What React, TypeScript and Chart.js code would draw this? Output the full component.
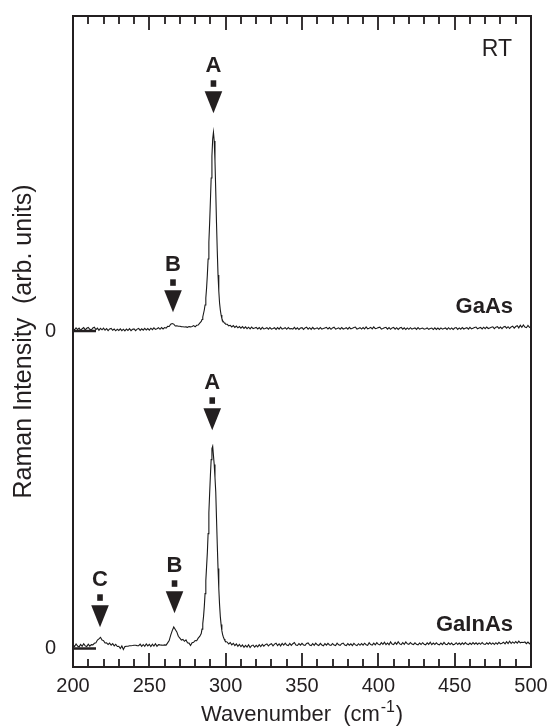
import { useEffect, useRef } from "react";
import { Chart, registerables } from "chart.js";

Chart.register(...registerables);

const FONT = '"Liberation Sans", Arial, Helvetica, sans-serif';
const INK = "#231f20";

// Raman shift (cm^-1)
const waveNumbers = [
  200, 201, 202, 203, 204, 205, 206, 207, 208, 209,
  210, 211, 212, 213, 214, 215, 216, 217, 218, 219,
  220, 221, 222, 223, 224, 225, 226, 227, 228, 229,
  230, 231, 232, 233, 234, 235, 236, 237, 238, 239,
  240, 241, 242, 243, 244, 245, 246, 247, 248, 249,
  250, 251, 252, 253, 254, 255, 256, 257, 258, 259,
  260, 261, 262, 263, 264, 265, 266, 267, 268, 269,
  270, 271, 272, 273, 274, 275, 276, 277, 278, 279,
  280, 281, 282, 283,
  284, 284.5, 285, 285.5, 286, 286.5, 287, 287.5, 288, 288.5,
  289, 289.5, 290, 290.5, 291, 291.5, 292, 292.5, 293, 293.5,
  294, 294.5, 295, 295.5, 296, 296.5, 297, 297.5, 298, 298.5,
  299, 299.5, 300,
  301, 302, 303, 304, 305, 306, 307, 308, 309,
  310, 311, 312, 313, 314, 315, 316, 317, 318, 319,
  320, 321, 322, 323, 324, 325, 326, 327, 328, 329,
  330, 331, 332, 333, 334, 335, 336, 337, 338, 339,
  340, 341, 342, 343, 344, 345, 346, 347, 348, 349,
  350, 351, 352, 353, 354, 355, 356, 357, 358, 359,
  360, 361, 362, 363, 364, 365, 366, 367, 368, 369,
  370, 371, 372, 373, 374, 375, 376, 377, 378, 379,
  380, 381, 382, 383, 384, 385, 386, 387, 388, 389,
  390, 391, 392, 393, 394, 395, 396, 397, 398, 399,
  400, 401, 402, 403, 404, 405, 406, 407, 408, 409,
  410, 411, 412, 413, 414, 415, 416, 417, 418, 419,
  420, 421, 422, 423, 424, 425, 426, 427, 428, 429,
  430, 431, 432, 433, 434, 435, 436, 437, 438, 439,
  440, 441, 442, 443, 444, 445, 446, 447, 448, 449,
  450, 451, 452, 453, 454, 455, 456, 457, 458, 459,
  460, 461, 462, 463, 464, 465, 466, 467, 468, 469,
  470, 471, 472, 473, 474, 475, 476, 477, 478, 479,
  480, 481, 482, 483, 484, 485, 486, 487, 488, 489,
  490, 491, 492, 493, 494, 495, 496, 497, 498, 499, 500,
];

// GaAs spectrum (arb. units, relative to its own zero)
const gaAsIntensity = [
  2.6, 1.0, 3.2, 1.5, 2.9, 0.7, 2.3, 3.4, 1.1, 2.7,
  3.5, 1.7, 0.9, 3.0, 3.7, 1.3, 2.9, 0.6, 2.6, 1.2,
  2.9, 0.8, 2.3, 0.3, 2.0, 2.6, 0.7, 1.9, 0.2, 1.8,
  0.6, 2.2, 0.4, 1.8, 0.1, 2.0, 0.5, 2.3, 0.3, 1.7,
  2.1, 0.4, 1.9, 2.5, 0.6, 2.2, 0.8, 2.7, 1.0, 2.4,
  0.9, 2.8, 1.3, 3.1, 1.6, 2.2, 3.3, 1.7, 3.5, 2.0,
  3.4, 2.9, 4.6, 4.5, 6.7, 7.4, 6.9, 5.0, 5.3, 4.7,
  4.8, 4.4, 4.3, 4.0, 4.1, 3.7, 4.4, 4.1, 4.6, 5.4,
  4.2, 5.7, 6.0, 7.9,
  9.5, 11.5, 14, 17.5, 21, 26, 33, 43, 56, 72,
  89, 108, 130, 153, 175, 192, 198.7, 190, 170, 140,
  108, 80, 56, 40, 28, 21, 16, 12.5, 10.5, 9.3,
  8.4, 7.6, 7.0,
  6.7, 5.2, 5.7, 4.1, 5.4, 3.6, 4.9, 3.2, 4.5,
  2.9, 4.4, 2.6, 4.1, 2.3, 3.8, 2.1, 4.0, 2.4, 2.9,
  3.6, 2.0, 3.4, 1.7, 3.7, 2.1, 2.5, 3.3, 1.8, 3.5,
  1.9, 2.4, 3.2, 1.6, 3.4, 1.8, 3.8, 2.0, 2.5, 3.3,
  1.7, 3.5, 2.1, 2.4, 1.9, 3.6, 1.8, 3.2, 1.5, 3.0,
  3.4, 1.6, 3.1, 3.9, 1.9, 3.3, 1.7, 3.6, 2.0, 2.5,
  3.2, 1.8, 3.5, 1.9, 2.4, 3.1, 3.7, 2.0, 3.4, 1.7,
  3.1, 3.8, 1.9, 2.5, 3.2, 1.8, 3.5, 2.0, 2.6, 3.3,
  1.9, 3.6, 2.1, 2.7, 3.4, 3.9, 2.0, 2.6, 3.3, 1.9,
  3.5, 2.0, 4.0, 2.2, 2.7, 3.6, 2.1, 4.1, 2.3, 2.8,
  3.4, 3.8, 2.0, 2.5, 3.2, 3.7, 1.9, 3.4, 1.7, 3.1,
  3.6, 1.9, 3.3, 1.6, 3.0, 3.5, 1.8, 3.2, 1.5, 3.1,
  1.7, 3.3, 1.9, 2.4, 3.1, 1.6, 3.4, 1.8, 2.5, 3.0,
  1.8, 2.3, 3.1, 1.7, 2.4, 2.9, 1.5, 3.2, 1.6, 3.0,
  1.5, 3.1, 1.8, 2.4, 3.0, 1.6, 3.3, 1.7, 3.1, 1.5,
  2.9, 3.4, 1.6, 3.1, 1.8, 3.5, 2.0, 2.7, 3.3, 1.9,
  3.6, 2.1, 2.8, 3.4, 3.9, 2.2, 2.9, 3.5, 2.1, 3.8,
  2.3, 4.0, 2.5, 3.1, 3.7, 4.2, 2.4, 3.8, 4.3, 2.6,
  4.0, 2.4, 4.1, 4.6, 2.8, 4.3, 2.5, 4.1, 4.9, 2.9,
  4.5, 5.3, 3.1, 5.7, 3.7, 6.0, 3.9, 3.3, 5.5, 3.6, 4.1,
];

// GaInAs spectrum (arb. units, relative to its own zero)
const gaInAsIntensity = [
  3.9, 2.1, 4.6, 2.5, 1.7, 4.2, 2.3, 4.8, 2.7, 2.0,
  4.4, 2.4, 4.0, 3.7, 5.3, 5.7, 8.5, 9.7, 11.3, 8.5,
  8.0, 5.6, 5.8, 4.1, 5.5, 3.4, 4.9, 2.7, 4.3, 2.1,
  2.3, 0.1, 2.6, -0.8, 2.0, 2.3, 2.4, 2.8, 2.9, 3.1,
  3.4, 3.3, 3.0, 2.9, 4.5, 2.2, 4.1, 2.3, 4.6, 2.7,
  4.2, 2.1, 4.4, 2.6, 4.9, 2.3, 4.0, 3.7, 3.5, 3.3,
  3.7, 3.5, 5.7, 8.0, 13.5, 18.0, 21.6, 19.1, 16.7, 12.3,
  10.5, 8.5, 9.1, 7.3, 8.7, 5.9, 5.5, 3.1, 5.9, 6.3,
  8.1, 7.9, 10.5, 12.1,
  15.0, 19.5, 25, 32, 42, 55, 68, 82, 96, 115,
  136, 155, 173, 189, 200, 202.3, 193, 184, 171, 157,
  130, 104, 80, 60, 44, 32, 24, 18, 14, 11.6,
  9.5, 8.0, 7.0,
  6.5, 4.6, 6.1, 3.7, 5.3, 3.0, 4.6, 2.3, 4.1,
  1.9, 3.6, 1.3, 3.2, 1.5, 3.8, 1.1, 3.0, 3.5, 1.4,
  3.3, 1.7, 3.9, 2.1, 4.3, 2.4, 4.0, 4.7, 2.6, 4.2,
  4.9, 2.8, 4.5, 5.3, 3.1, 4.8, 2.7, 5.1, 3.4, 5.5,
  3.6, 3.0, 5.2, 3.3, 4.9, 6.1, 3.5, 3.1, 5.0, 3.4,
  5.3, 3.7, 3.2, 5.1, 5.6, 3.5, 3.0, 4.9, 3.3, 5.4,
  3.8, 3.1, 5.2, 3.6, 2.9, 5.0, 3.4, 5.3, 3.7, 3.2,
  5.1, 3.5, 3.0, 5.4, 3.8, 3.3, 4.9, 5.5, 3.6, 3.1,
  5.0, 3.4, 4.8, 3.0, 5.2, 3.7, 3.1, 4.9, 3.3, 5.1,
  3.5, 5.4, 3.9, 3.2, 5.8, 4.1, 3.6, 5.5, 3.8, 6.0,
  4.2, 3.7, 5.9, 4.3, 6.4, 4.0, 5.6, 3.9, 6.7, 4.5,
  4.1, 6.2, 4.4, 6.9, 4.7, 4.1, 6.0, 4.3, 6.6, 4.8,
  4.2, 6.1, 4.5, 4.0, 5.8, 4.3, 3.7, 5.6, 4.1, 5.9,
  4.4, 3.8, 5.7, 4.2, 6.3, 3.9, 5.5, 4.1, 5.8, 4.3,
  3.7, 5.6, 4.0, 6.2, 4.4, 3.9, 5.8, 4.2, 5.5, 3.8,
  4.3, 5.9, 4.1, 5.5, 3.9, 5.7, 4.2, 6.1, 4.5, 4.0,
  5.6, 4.1, 6.0, 4.4, 5.8, 4.2, 5.7, 4.3, 6.1, 4.5,
  4.1, 5.8, 4.4, 6.0, 4.3, 5.7, 4.1, 5.9, 4.5, 6.2,
  4.7, 5.3, 6.4, 4.8, 6.9, 5.0, 7.3, 5.1, 6.7, 5.3,
  7.0, 5.4, 7.5, 5.8, 6.3, 6.1, 6.6, 5.0, 6.5, 4.9, 5.8,
];

// vertical offset of the GaAs trace (its zero level)
const gaAsOffset = 317.6;
const zeroLevels = [0, gaAsOffset];

// sample names and their zero levels
const sampleNames = ["GaAs", "GaInAs"];
const sampleZeros = [gaAsOffset, 0];

// peak markers: label, wavenumber, arrow tip intensity (plot units)
const markerLabels = ["A", "B", "A", "B", "C"];
const markerX = [292, 265.5, 291.2, 266.5, 217.7];
const markerTipY = [535.3, 336.3, 218.3, 35.3, 21.3];

// axis ticks
const xTickValues = [
  200, 210, 220, 230, 240, 250, 260, 270, 280, 290,
  300, 310, 320, 330, 340, 350, 360, 370, 380, 390,
  400, 410, 420, 430, 440, 450, 460, 470, 480, 490, 500,
];
const xMin = 200;
const xMax = 500;
const yMin = -18.4;
const yMax = 632.6;

export default function App() {
  const ref = useRef<HTMLCanvasElement>(null);

  useEffect(() => {
    const canvas = ref.current;
    if (!canvas) return;

    const decor = {
      id: "decor",
      afterDraw(chart: any) {
        const { ctx, chartArea: a, scales } = chart;
        const xs = scales.x;
        const ys = scales.y;
        ctx.save();
        ctx.strokeStyle = INK;
        ctx.fillStyle = INK;

        // inward ticks, top and bottom
        ctx.lineWidth = 1.8;
        ctx.beginPath();
        xTickValues.forEach((v) => {
          const px = Math.round(xs.getPixelForValue(v));
          const len = v % 50 === 0 ? 14 : 8;
          ctx.moveTo(px, a.top);
          ctx.lineTo(px, a.top + len);
          ctx.moveTo(px, a.bottom);
          ctx.lineTo(px, a.bottom - len);
        });
        ctx.stroke();

        // frame
        ctx.lineWidth = 2;
        ctx.strokeRect(a.left, a.top, a.right - a.left, a.bottom - a.top);

        // zero markers
        ctx.lineWidth = 2.5;
        ctx.beginPath();
        zeroLevels.forEach((z) => {
          const py = ys.getPixelForValue(z);
          ctx.moveTo(a.left, py);
          ctx.lineTo(a.left + 23, py);
        });
        ctx.stroke();

        // peak markers
        ctx.font = `bold 22px ${FONT}`;
        ctx.textAlign = "center";
        ctx.textBaseline = "alphabetic";
        markerLabels.forEach((lab, i) => {
          const px = xs.getPixelForValue(markerX[i]);
          const tip = ys.getPixelForValue(markerTipY[i]);
          ctx.beginPath();
          ctx.moveTo(px - 8.8, tip - 22);
          ctx.lineTo(px + 8.8, tip - 22);
          ctx.lineTo(px, tip);
          ctx.closePath();
          ctx.fill();
          ctx.fillRect(px - 2.8, tip - 33, 5.6, 6.5);
          ctx.fillText(lab, px, tip - 41);
        });

        // sample names
        ctx.textAlign = "right";
        sampleNames.forEach((name, i) => {
          const py = ys.getPixelForValue(sampleZeros[i]);
          ctx.fillText(name, a.right - 18, py - 18);
        });

        // RT
        ctx.font = `23px ${FONT}`;
        ctx.fillText("RT", a.right - 19, a.top + 40);

        // x title with superscript
        const mainFont = `22px ${FONT}`;
        const supFont = `16px ${FONT}`;
        const p1 = "Wavenumber  (cm";
        const p2 = "-1";
        const p3 = ")";
        ctx.font = mainFont;
        const w1 = ctx.measureText(p1).width;
        const w3 = ctx.measureText(p3).width;
        ctx.font = supFont;
        const w2 = ctx.measureText(p2).width + 1.5;
        const total = w1 + w2 + w3;
        const cx = (a.left + a.right) / 2;
        const x0 = cx - total / 2;
        const base = 721;
        ctx.textAlign = "left";
        ctx.font = mainFont;
        ctx.fillText(p1, x0, base);
        ctx.font = supFont;
        ctx.fillText(p2, x0 + w1 + 0.8, base - 9);
        ctx.font = mainFont;
        ctx.fillText(p3, x0 + w1 + w2, base);

        // y title
        ctx.save();
        ctx.translate(31, (a.top + a.bottom) / 2);
        ctx.rotate(-Math.PI / 2);
        ctx.font = `25px ${FONT}`;
        ctx.textAlign = "center";
        ctx.fillText("Raman Intensity  (arb. units)", 0, 0);
        ctx.restore();

        ctx.restore();
      },
    };

    const toPoints = (vals: number[], offset: number) =>
      waveNumbers.map((x, i) => ({ x, y: vals[i] + offset }));

    const noPad = (s: any) => {
      s.paddingTop = 0;
      s.paddingBottom = 0;
      s.paddingLeft = 0;
      s.paddingRight = 0;
    };

    const chart = new Chart(canvas, {
      type: "line",
      data: {
        datasets: [
          {
            label: "GaAs",
            data: toPoints(gaAsIntensity, gaAsOffset),
            borderColor: "#1a1a1a",
            borderWidth: 1.1,
            pointRadius: 0,
            tension: 0,
            fill: false,
          },
          {
            label: "GaInAs",
            data: toPoints(gaInAsIntensity, 0),
            borderColor: "#1a1a1a",
            borderWidth: 1.1,
            pointRadius: 0,
            tension: 0,
            fill: false,
          },
        ],
      },
      options: {
        animation: false,
        responsive: false,
        events: [],
        layout: { padding: { left: 0, top: 16, right: 19, bottom: 0 } },
        plugins: {
          legend: { display: false },
          tooltip: { enabled: false },
        },
        scales: {
          x: {
            type: "linear",
            min: xMin,
            max: xMax,
            grid: { display: false, drawTicks: false },
            border: { display: false },
            ticks: {
              stepSize: 50,
              autoSkip: false,
              maxRotation: 0,
              padding: 7,
              color: INK,
              font: { family: FONT, size: 20 },
              callback: (v: any) => String(v),
            },
            afterFit: (s: any) => {
              s.height = 60;
              noPad(s);
            },
          },
          y: {
            type: "linear",
            min: yMin,
            max: yMax,
            grid: { display: false, drawTicks: false },
            border: { display: false },
            afterBuildTicks: (s: any) => {
              s.ticks = zeroLevels.map((v) => ({ value: v }));
            },
            ticks: {
              padding: 17,
              color: INK,
              font: { family: FONT, size: 20 },
              callback: () => "0",
            },
            afterFit: (s: any) => {
              s.width = 73;
              noPad(s);
            },
          },
        },
      },
      plugins: [decor],
    });

    return () => chart.destroy();
  }, []);

  return (
    <div style={{ position: "fixed", left: 0, top: 0, width: 550, height: 727, background: "#fff" }}>
      <canvas ref={ref} width={550} height={727} style={{ display: "block" }} />
    </div>
  );
}
